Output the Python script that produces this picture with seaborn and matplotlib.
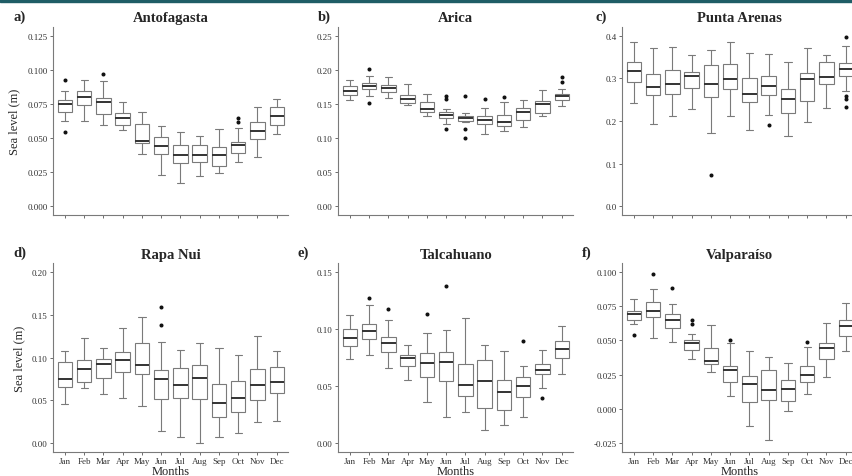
import numpy as np
import pandas as pd
import matplotlib
matplotlib.use('Agg')
import matplotlib.pyplot as plt
from matplotlib.patches import Rectangle
import seaborn as sns

# Month labels
months = ['Jan', 'Feb', 'Mar', 'Apr', 'May', 'Jun', 'Jul', 'Aug', 'Sep', 'Oct', 'Nov', 'Dec']

# Box stats: [lower whisker, q1, median, q3, upper whisker]
antofagasta_box = [
    [0.0622, 0.0690, 0.0748, 0.0780, 0.0848],
    [0.0622, 0.0741, 0.0800, 0.0848, 0.0923],
    [0.0598, 0.0678, 0.0765, 0.0790, 0.0914],
    [0.0561, 0.0593, 0.0644, 0.0680, 0.0761],
    [0.0384, 0.0462, 0.0476, 0.0600, 0.0690],
    [0.0228, 0.0384, 0.0440, 0.0505, 0.0590],
    [0.0168, 0.0316, 0.0377, 0.0447, 0.0544],
    [0.0221, 0.0326, 0.0377, 0.0452, 0.0518],
    [0.0245, 0.0294, 0.0374, 0.0433, 0.0566],
    [0.0328, 0.0391, 0.0447, 0.0471, 0.0571],
    [0.0362, 0.0496, 0.0549, 0.0615, 0.0731],
    [0.0530, 0.0598, 0.0663, 0.0727, 0.0787],
]
antofagasta_out = [[0.0923, 0.0548], [], [0.0970], [], [], [], [], [], [], [0.0646, 0.0615], [], []]

arica_box = [
    [0.1550, 0.1628, 0.1696, 0.1764, 0.1847],
    [0.1618, 0.1716, 0.1769, 0.1803, 0.1915],
    [0.1580, 0.1672, 0.1730, 0.1774, 0.1890],
    [0.1482, 0.1507, 0.1575, 0.1633, 0.1793],
    [0.1317, 0.1385, 0.1429, 0.1526, 0.1648],
    [0.1210, 0.1288, 0.1332, 0.1380, 0.1424],
    [0.1230, 0.1254, 0.1298, 0.1322, 0.1366],
    [0.1060, 0.1210, 0.1268, 0.1317, 0.1439],
    [0.1108, 0.1181, 0.1230, 0.1341, 0.1526],
    [0.1157, 0.1259, 0.1385, 0.1439, 0.1550],
    [0.1327, 0.1366, 0.1492, 0.1545, 0.1706],
    [0.1463, 0.1555, 0.1609, 0.1652, 0.1716],
]
arica_out = [[], [0.2012, 0.1516], [], [], [], [0.1614, 0.1575, 0.1132],
             [0.1614, 0.1128, 0.0997], [0.1570], [0.1604], [], [], [0.1895, 0.1818]]

punta_arenas_box = [
    [0.242, 0.2905, 0.3163, 0.339, 0.3845],
    [0.1934, 0.260, 0.2787, 0.3093, 0.372],
    [0.2122, 0.2639, 0.2858, 0.3195, 0.3735],
    [0.2279, 0.2772, 0.3046, 0.3156, 0.3547],
    [0.173, 0.2553, 0.2866, 0.3312, 0.3672],
    [0.2122, 0.274, 0.2983, 0.3328, 0.386],
    [0.1785, 0.2435, 0.2631, 0.3015, 0.3586],
    [0.2138, 0.260, 0.2827, 0.3054, 0.357],
    [0.1652, 0.2185, 0.2513, 0.2756, 0.3383],
    [0.1965, 0.2474, 0.2983, 0.3132, 0.3704],
    [0.231, 0.2874, 0.3038, 0.3383, 0.3555],
    [0.2694, 0.3054, 0.3226, 0.3367, 0.3758],
]
punta_arenas_out = [[], [], [], [], [0.0736], [], [], [0.190], [], [], [],
                    [0.3962, 0.2575, 0.2513, 0.2318]]

rapa_nui_box = [
    [0.0461, 0.0657, 0.0754, 0.0946, 0.1071],
    [0.0641, 0.0716, 0.0864, 0.0973, 0.1228],
    [0.0579, 0.0766, 0.0923, 0.0985, 0.1110],
    [0.0532, 0.0833, 0.0970, 0.1063, 0.1341],
    [0.0430, 0.0809, 0.0907, 0.1169, 0.1478],
    [0.0137, 0.0520, 0.0754, 0.0852, 0.1177],
    [0.0074, 0.0528, 0.0680, 0.0872, 0.1083],
    [0.0004, 0.0520, 0.0759, 0.0915, 0.1173],
    [0.0070, 0.0301, 0.0473, 0.0696, 0.1107],
    [0.0117, 0.0360, 0.0532, 0.0720, 0.1028],
    [0.0246, 0.0504, 0.0684, 0.0868, 0.1255],
    [0.0262, 0.0590, 0.0712, 0.0888, 0.1071],
]
rapa_nui_out = [[], [], [], [], [], [0.1584, 0.1376], [], [], [], [], [], []]

talcahuano_box = [
    [0.0741, 0.0847, 0.0917, 0.0996, 0.1119],
    [0.0771, 0.0908, 0.0979, 0.1046, 0.1207],
    [0.0659, 0.0794, 0.0879, 0.0932, 0.1078],
    [0.0554, 0.0677, 0.0747, 0.0771, 0.0856],
    [0.0360, 0.0580, 0.0700, 0.0791, 0.0967],
    [0.0226, 0.0548, 0.0709, 0.0800, 0.0993],
    [0.0272, 0.0410, 0.0513, 0.0689, 0.1093],
    [0.0111, 0.0305, 0.0545, 0.0727, 0.0856],
    [0.0158, 0.0293, 0.0451, 0.0554, 0.0803],
    [0.0231, 0.0407, 0.0504, 0.0577, 0.0677],
    [0.0480, 0.0607, 0.0639, 0.0694, 0.0817],
    [0.0607, 0.0750, 0.0823, 0.0897, 0.1026],
]
talcahuano_out = [[], [0.1269], [0.1172], [], [0.1131], [0.1377], [], [], [], [0.0897], [0.0393], []]

valparaiso_box = [
    [0.0620, 0.0651, 0.0693, 0.0717, 0.0803],
    [0.0515, 0.0669, 0.0717, 0.0783, 0.0876],
    [0.0490, 0.0593, 0.0649, 0.0693, 0.0766],
    [0.0361, 0.0432, 0.0478, 0.0503, 0.0549],
    [0.0271, 0.0325, 0.0351, 0.0442, 0.0612],
    [0.0095, 0.0198, 0.0283, 0.0315, 0.0481],
    [-0.0127, 0.0051, 0.0183, 0.0239, 0.0422],
    [-0.0224, 0.0068, 0.0139, 0.0281, 0.0376],
    [-0.0017, 0.0054, 0.0144, 0.0212, 0.0337],
    [0.0112, 0.0198, 0.0249, 0.0310, 0.0454],
    [0.0232, 0.0364, 0.0444, 0.0478, 0.0630],
    [0.0422, 0.0532, 0.0608, 0.0647, 0.0771],
]
valparaiso_out = [[0.0537], [0.0986], [0.0879], [0.0649, 0.0617], [], [0.0500], [], [], [], [0.0486], [], []]

stations = ['Antofagasta', 'Arica', 'Punta Arenas', 'Rapa Nui', 'Talcahuano', 'Valparaíso']
tags = ['a)', 'b)', 'c)', 'd)', 'e)', 'f)']
boxes = [antofagasta_box, arica_box, punta_arenas_box, rapa_nui_box, talcahuano_box, valparaiso_box]
outs = [antofagasta_out, arica_out, punta_arenas_out, rapa_nui_out, talcahuano_out, valparaiso_out]
y_ticks = [
    [0.000, 0.025, 0.050, 0.075, 0.100, 0.125],
    [0.00, 0.05, 0.10, 0.15, 0.20, 0.25],
    [0.0, 0.1, 0.2, 0.3, 0.4],
    [0.00, 0.05, 0.10, 0.15, 0.20],
    [0.00, 0.05, 0.10, 0.15],
    [-0.025, 0.000, 0.025, 0.050, 0.075, 0.100],
]
y_fmt = ['{:.3f}', '{:.2f}', '{:.1f}', '{:.2f}', '{:.2f}', '{:.3f}']


def month_values(stats, extra):
    # rebuild a sample whose quartiles / whiskers match the read box stats
    lo, q1, med, q3, hi = stats
    below = [v for v in extra if v < med]
    above = [v for v in extra if v > med]
    return below + [lo] + [q1] * 10 + [med] * 5 + [q3] * 10 + [hi] + above


sns.set_theme(style='white')
plt.rcParams['font.family'] = ['Liberation Serif', 'DejaVu Serif']

fig = plt.figure(figsize=(8.52, 4.77), dpi=100)
fig.patches.append(Rectangle((0, 1 - 3 / 477), 1, 3 / 477, transform=fig.transFigure,
                             color='#1f5d66', zorder=10))

lefts = [53.3, 338.3, 622.3]
tag_x = [13, 318, 595, 13, 297, 582]
W, H = 852, 477

for i, name in enumerate(stations):
    row, col = divmod(i, 3)
    top = 28 if row == 0 else 264.3
    bottom = 216 if row == 0 else 452.7
    ax = fig.add_axes([lefts[col] / W, 1 - bottom / H, 235 / W, (bottom - top) / H])

    rows = []
    for m, (st, ex) in enumerate(zip(boxes[i], outs[i])):
        for v in month_values(st, ex):
            rows.append((months[m], v))
    df = pd.DataFrame(rows, columns=['month', 'level'])

    sns.boxplot(data=df, x='month', y='level', order=months, ax=ax, width=0.75,
                color='white', linecolor='#7a7a7a', linewidth=0.8, whis=1.5,
                fliersize=1.9,
                flierprops=dict(marker='o', markerfacecolor='#111111', markeredgecolor='#111111'),
                medianprops=dict(color='#333333', linewidth=1.4))

    yt = y_ticks[i]
    span = yt[-1] - yt[0]
    ax.set_ylim(yt[0] - 0.05 * span, yt[-1] + 0.05 * span)
    ax.set_xlim(-0.6, 11.6)
    ax.set_yticks(yt)
    ax.set_yticklabels([y_fmt[i].format(t) for t in yt])
    ax.tick_params(axis='both', which='both', direction='out', length=2.5, width=0.6,
                   color='#555555', labelsize=6.5, labelcolor='#333333', pad=1.5,
                   bottom=True, left=True)
    for s in ['top', 'right']:
        ax.spines[s].set_visible(False)
    for s in ['left', 'bottom']:
        ax.spines[s].set_color('#7a7a7a')
        ax.spines[s].set_linewidth(0.8)

    if row == 0:
        ax.set_xticklabels([])
        ax.set_xlabel('')
    else:
        ax.set_xlabel('Months', fontsize=9, labelpad=0)
    if col == 0:
        ax.set_ylabel('Sea level (m)', fontsize=9, labelpad=5)
    else:
        ax.set_ylabel('')

    ax.set_title(name, fontsize=10.5, fontweight='bold', pad=4)
    fig.text(tag_x[i] / W, 1 - (top - 11) / H, tags[i], fontsize=10.5, fontweight='bold',
             va='center', ha='left')

fig.savefig('out.png', dpi=100)
